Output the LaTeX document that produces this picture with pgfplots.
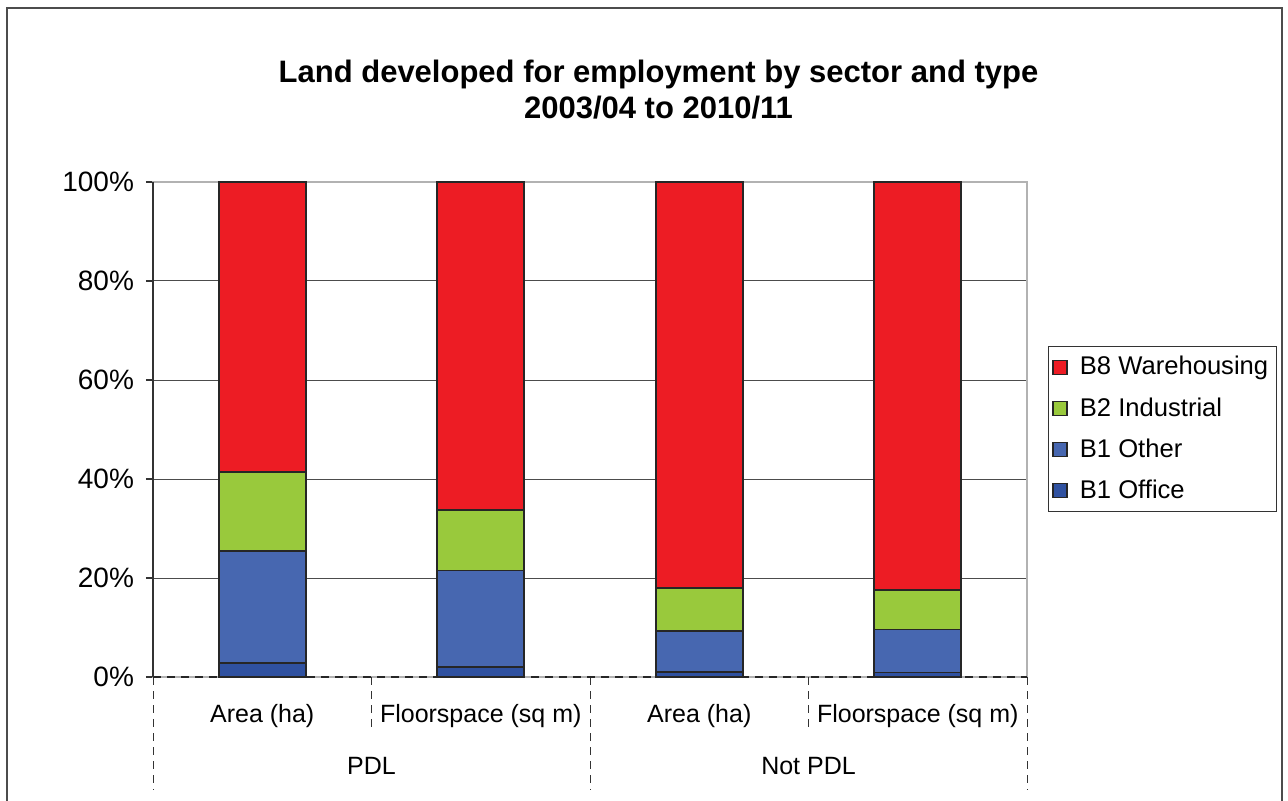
\documentclass[border=0pt]{standalone}
\usepackage{pgfplots}
\pgfplotsset{compat=1.18}
\usepackage{fontspec}
\setmainfont{Liberation Sans}
\definecolor{cRed}{HTML}{ED1C24}
\definecolor{cGreen}{HTML}{99C93C}
\definecolor{cBlue}{HTML}{4767B0}
\definecolor{cNavy}{HTML}{2F51A0}
\begin{document}
\begin{tikzpicture}
\path[use as bounding box] (0,0) rectangle (644pt,-400.5pt);
\draw[black!70, line width=0.8pt] (3.5pt,-402pt) -- (3.5pt,-4pt) -- (641pt,-4pt) -- (641pt,-402pt);
\node[font=\bfseries\fontsize{15.5}{18}\selectfont, align=center] at (329.25pt,-45pt)
  {Land developed for employment by sector and type\\2003/04 to 2010/11};
\begin{axis}[
  at={(76.5pt,-338.5pt)}, anchor=south west,
  scale only axis, width=437pt, height=247.5pt,
  xmin=0, xmax=4, ymin=0, ymax=100,
  ybar stacked, bar width=43.5pt,
  xtick=\empty,
  ytick={0,20,40,60,80,100},
  yticklabels={0\%,20\%,40\%,60\%,80\%,100\%},
  ytick pos=left, tick align=outside, major tick length=3.5pt,
  tick style={black!80, line width=0.6pt},
  yticklabel style={font=\fontsize{14}{16}\selectfont, xshift=-2.5pt},
  ymajorgrids, major grid style={black!70, line width=0.5pt},
  axis line style={draw=gray!60, line width=0.6pt},
  clip=false,
  reverse legend,
  legend cell align=left,
  legend style={at={(1.024,0.6687)}, anchor=north west, draw=black!80,
    font=\fontsize{12.8}{15}\selectfont, row sep=5.8pt, inner xsep=2pt, inner ysep=3pt},
  legend image code/.code={\draw[#1, line width=0.6pt] (1pt,-3.5pt) rectangle (8pt,3.5pt); \path (12pt,0pt);},
]
\addplot[fill=cNavy, draw=black!85, line width=0.9pt] coordinates {(0.5,2.9) (1.5,2.1) (2.5,0.95) (3.5,0.9)};
\addplot[fill=cBlue, draw=black!85, line width=0.9pt] coordinates {(0.5,22.6) (1.5,19.4) (2.5,8.35) (3.5,8.7)};
\addplot[fill=cGreen, draw=black!85, line width=0.9pt] coordinates {(0.5,15.9) (1.5,12.2) (2.5,8.6) (3.5,8.0)};
\addplot[fill=cRed, draw=black!85, line width=0.9pt] coordinates {(0.5,58.6) (1.5,66.3) (2.5,82.1) (3.5,82.4)};
\legend{B1 Office, B1 Other, B2 Industrial, B8 Warehousing}
\draw[black!80, line width=0.6pt] (rel axis cs:0,0) -- (rel axis cs:0,1);
\draw[black!85, line width=0.6pt, dash pattern=on 4pt off 3pt] (axis cs:0,0) -- (axis cs:4,0);
\draw[black!80, line width=0.5pt, dash pattern=on 4pt off 3pt] (axis cs:0,0) -- (axis cs:0,-22.8);
\draw[black!80, line width=0.5pt, dash pattern=on 4pt off 3pt] (axis cs:2,0) -- (axis cs:2,-22.8);
\draw[black!80, line width=0.5pt, dash pattern=on 4pt off 3pt] (axis cs:4,0) -- (axis cs:4,-22.8);
\draw[black!80, line width=0.5pt, dash pattern=on 4pt off 3pt] (axis cs:1,0) -- (axis cs:1,-10.7);
\draw[black!80, line width=0.5pt, dash pattern=on 4pt off 3pt] (axis cs:3,0) -- (axis cs:3,-10.7);
\node[font=\fontsize{12.5}{15}\selectfont] at (axis cs:0.5,-7.8) {Area (ha)};
\node[font=\fontsize{12.5}{15}\selectfont] at (axis cs:1.5,-7.8) {Floorspace (sq m)};
\node[font=\fontsize{12.5}{15}\selectfont] at (axis cs:2.5,-7.8) {Area (ha)};
\node[font=\fontsize{12.5}{15}\selectfont] at (axis cs:3.5,-7.8) {Floorspace (sq m)};
\node[font=\fontsize{12.5}{15}\selectfont] at (axis cs:1,-18.0) {PDL};
\node[font=\fontsize{12.5}{15}\selectfont] at (axis cs:3,-18.0) {Not PDL};
\end{axis}
\end{tikzpicture}
\end{document}
